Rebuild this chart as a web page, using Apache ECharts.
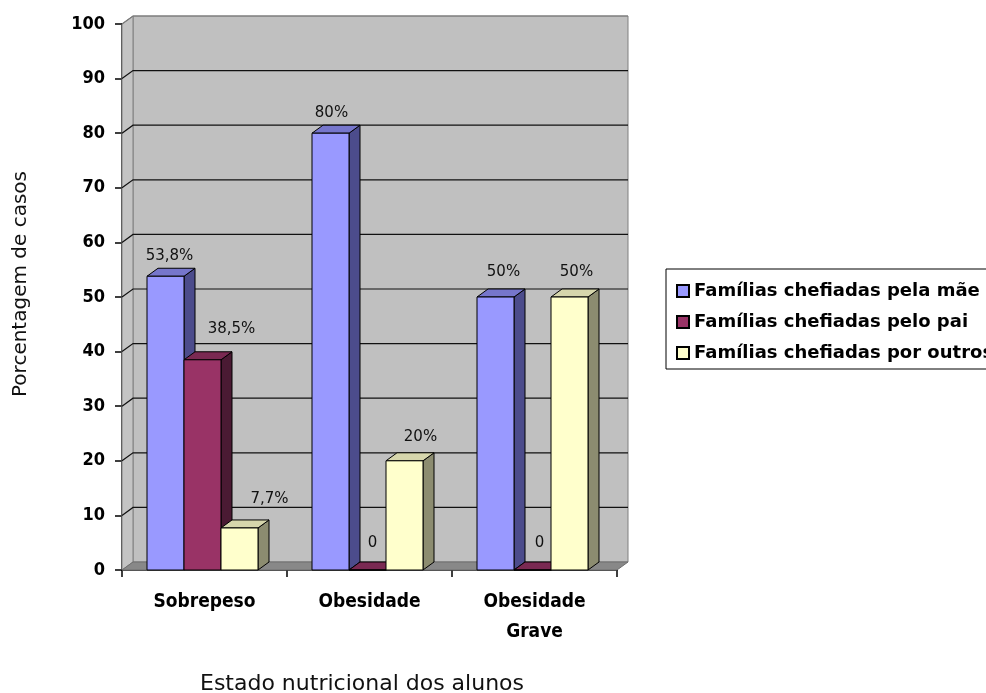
<!DOCTYPE html>
<html>
<head>
<meta charset="utf-8">
<title>Estado nutricional dos alunos</title>
<script src="https://cdn.jsdelivr.net/npm/echarts@6/dist/echarts.min.js"></script>
<style>
  html, body { margin: 0; padding: 0; background: #ffffff; }
  #chart { width: 986px; height: 693px; }
</style>
</head>
<body>
<div id="chart"></div>
<script>
// Categories and values (percentage of cases per household head)
const categories = ['Sobrepeso', 'Obesidade', 'Obesidade\nGrave'];
const seriesNames = [
  'Famílias chefiadas pela mãe',
  'Famílias chefiadas pelo pai',
  'Famílias chefiadas por outros'
];
const maeValues = [53.8, 80, 50];
const paiValues = [38.5, 0, 0];
const outrosValues = [7.7, 20, 50];
const yTicks = [0, 10, 20, 30, 40, 50, 60, 70, 80, 90, 100];

// Pseudo-3D look: depth offset of walls and columns
const DX = 11;
const DY = 8;
const BAR_SHARE = 37 / 165;   // column width as a share of the category band

const palettes = [
  { front: '#9999FF', top: '#7676CC', side: '#4C4C8C' },
  { front: '#993366', top: '#7A2952', side: '#4A1A33' },
  { front: '#FFFFCC', top: '#D6D6AC', side: '#8C8C70' }
];

// Value-label nudges [dx, dy] relative to the top-centre of each column face
const labelShift = [
  [[4, -20], [1, -20], [8, -25]],
  [[29, -31], [5, -27], [7, -27]],
  [[30, -29], [16, -24], [7, -25]]
];

function formatValue(v) {
  return v === 0 ? '0' : String(v).replace('.', ',') + '%';
}

function wallRenderer(params, api) {
  const cs = params.coordSys;
  const x0 = cs.x, x1 = cs.x + cs.width;
  const yBase = api.coord([0, yTicks[0]])[1];
  const yTop = api.coord([0, yTicks[yTicks.length - 1]])[1];
  const children = [];
  // back wall
  children.push({
    type: 'polygon',
    shape: { points: [[x0 + DX, yTop - DY], [x1 + DX, yTop - DY], [x1 + DX, yBase - DY], [x0 + DX, yBase - DY]] },
    style: { fill: '#C0C0C0', stroke: '#808080', lineWidth: 1 }
  });
  // side wall
  children.push({
    type: 'polygon',
    shape: { points: [[x0, yBase], [x0, yTop], [x0 + DX, yTop - DY], [x0 + DX, yBase - DY]] },
    style: { fill: '#C4C4C4', stroke: '#808080', lineWidth: 1 }
  });
  // floor
  children.push({
    type: 'polygon',
    shape: { points: [[x0, yBase], [x1, yBase], [x1 + DX, yBase - DY], [x0 + DX, yBase - DY]] },
    style: { fill: '#888888', stroke: '#6E6E6E', lineWidth: 1 }
  });
  // grid lines on side and back wall
  yTicks.forEach(function (v) {
    if (v === yTicks[0]) return;
    const y = api.coord([0, v])[1];
    const isTop = v === yTicks[yTicks.length - 1];
    const stroke = isTop ? '#7A7A7A' : '#111111';
    children.push({
      type: 'polyline',
      shape: { points: [[x0, y], [x0 + DX, y - DY], [x1 + DX, y - DY]] },
      style: { stroke: stroke, lineWidth: 1.2, fill: null }
    });
  });
  return { type: 'group', children: children };
}

function columnGeometry(api, seriesIndex) {
  const cat = api.value(0);
  const val = api.value(1);
  const base = api.coord([cat, 0]);
  const tip = api.coord([cat, val]);
  const band = api.size([1, 0])[0];
  const w = band * BAR_SHARE;
  const xl = base[0] - 1.5 * w + seriesIndex * w - 2;
  return { cat: cat, val: val, xl: xl, xr: xl + w, w: w, yb: base[1], yt: tip[1] };
}

function barRenderer(seriesIndex) {
  const pal = palettes[seriesIndex];
  return function (params, api) {
    const g = columnGeometry(api, seriesIndex);
    const edge = { stroke: '#000000', lineWidth: 1, lineJoin: 'round' };
    return {
      type: 'group',
      children: [
        {
          type: 'polygon',
          shape: { points: [[g.xr, g.yb], [g.xr + DX, g.yb - DY], [g.xr + DX, g.yt - DY], [g.xr, g.yt]] },
          style: Object.assign({ fill: pal.side }, edge)
        },
        {
          type: 'polygon',
          shape: { points: [[g.xl, g.yt], [g.xl + DX, g.yt - DY], [g.xr + DX, g.yt - DY], [g.xr, g.yt]] },
          style: Object.assign({ fill: pal.top }, edge)
        },
        {
          type: 'rect',
          shape: { x: g.xl, y: g.yt, width: g.w, height: g.yb - g.yt },
          style: Object.assign({ fill: pal.front }, edge)
        }
      ]
    };
  };
}

function labelRenderer(seriesIndex) {
  return function (params, api) {
    const g = columnGeometry(api, seriesIndex);
    const shift = labelShift[seriesIndex][g.cat];
    return {
      type: 'text',
      x: (g.xl + g.xr) / 2 + shift[0],
      y: g.yt + shift[1],
      style: {
        text: formatValue(g.val),
        fill: '#111111',
        font: '15px "DejaVu Sans"',
        align: 'center',
        verticalAlign: 'middle'
      }
    };
  };
}

const valueSets = [maeValues, paiValues, outrosValues];

const chart = echarts.init(document.getElementById('chart'), null, { renderer: 'canvas' });

const barSeries = valueSets.map(function (vals, s) {
  return {
    name: seriesNames[s],
    type: 'custom',
    z: 3,
    renderItem: barRenderer(s),
    encode: { x: 0, y: 1 },
    itemStyle: { color: palettes[s].front, borderColor: '#000000', borderWidth: 1 },
    data: vals.map(function (v, i) { return [i, v]; })
  };
});

const labelSeries = valueSets.map(function (vals, s) {
  return {
    type: 'custom',
    z: 5,
    silent: true,
    renderItem: labelRenderer(s),
    encode: { x: 0, y: 1 },
    data: vals.map(function (v, i) { return [i, v]; })
  };
});

chart.setOption({
  animation: false,
  backgroundColor: '#ffffff',
  grid: { left: 122, top: 24, right: 369, bottom: 123, containLabel: false, outerBoundsMode: 'none' },
  legend: {
    orient: 'vertical',
    left: 666,
    top: 269,
    data: seriesNames,
    icon: 'rect',
    itemWidth: 12,
    itemHeight: 12,
    itemGap: 13,
    padding: [13, 40, 7, 10],
    borderColor: '#000000',
    borderWidth: 1,
    textStyle: {
      color: '#000000',
      fontFamily: '"DejaVu Sans"',
      fontWeight: 'bold',
      fontSize: 18
    }
  },
  xAxis: {
    type: 'category',
    data: categories,
    name: 'Estado nutricional dos alunos',
    nameLocation: 'middle',
    nameGap: 103,
    nameTextStyle: { color: '#111111', fontFamily: '"DejaVu Sans"', fontSize: 22, padding: [0, 15, 0, 0] },
    axisLine: { lineStyle: { color: '#000000', width: 1.5 } },
    axisTick: { show: true, length: 7, lineStyle: { color: '#000000', width: 1.5 } },
    axisLabel: {
      color: '#000000',
      fontFamily: '"DejaVu Sans Condensed", "DejaVu Sans"',
      fontWeight: 'bold',
      fontSize: 19,
      lineHeight: 30,
      margin: 17
    },
    splitLine: { show: false }
  },
  yAxis: {
    type: 'value',
    min: 0,
    max: 100,
    interval: 10,
    name: 'Porcentagem de casos',
    nameLocation: 'middle',
    nameRotate: 90,
    nameGap: 91,
    nameTextStyle: { color: '#111111', fontFamily: '"DejaVu Sans"', fontSize: 20, padding: [0, 0, 0, 26] },
    axisLine: { show: true, lineStyle: { color: '#000000', width: 1.5 } },
    axisTick: { show: true, length: 7, lineStyle: { color: '#000000', width: 1.5 } },
    axisLabel: {
      color: '#000000',
      fontFamily: '"DejaVu Sans Condensed", "DejaVu Sans"',
      fontWeight: 'bold',
      fontSize: 18,
      margin: 17
    },
    splitLine: { show: false }
  },
  series: [
    {
      type: 'custom',
      z: 1,
      silent: true,
      renderItem: wallRenderer,
      encode: { x: 0, y: 1 },
      data: [[0, 0]]
    }
  ].concat(barSeries, labelSeries)
});
</script>
</body>
</html>
